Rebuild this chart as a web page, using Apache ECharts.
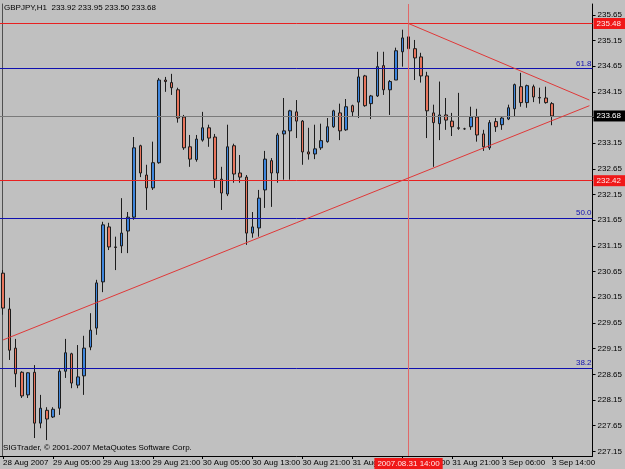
<!DOCTYPE html>
<html>
<head>
<meta charset="utf-8">
<script src="https://cdn.jsdelivr.net/npm/echarts@6/dist/echarts.min.js"></script>
<style>
  html, body { margin: 0; padding: 0; background: #c0c0c0; }
  #chart { width: 625px; height: 469px; }
</style>
</head>
<body>
<div id="chart"></div>
<script>
// GBPJPY H1 bars, 28 Aug 21:00 .. 3 Sep 14:00
const open = [230.62, 229.92, 229.16, 228.69, 228.25, 228.69, 227.70, 227.95, 227.82, 227.99,
  228.71, 229.05, 228.44, 228.62, 229.18, 229.55, 230.45, 231.52, 231.13, 231.15,
  231.44, 231.71, 233.10, 232.53, 232.28, 232.77, 234.38, 234.33, 234.19, 233.66,
  233.08, 232.83, 233.21, 233.45, 233.27, 232.45, 232.16, 233.10, 232.57, 232.49,
  231.40, 231.50, 232.24, 232.81, 232.57, 233.33, 233.39, 233.76, 233.58, 232.98,
  232.94, 233.06, 233.18, 233.47, 233.74, 233.41, 233.88, 233.95, 234.46, 233.92,
  234.07, 234.66, 234.19, 234.38, 234.93, 235.22, 234.99, 234.83, 234.46, 233.74,
  233.53, 233.70, 233.58, 233.45, 233.43, 233.47, 233.66, 233.33, 233.06, 233.57,
  233.51, 233.62, 233.82, 234.25, 233.94, 234.25, 234.04, 234.03, 233.92];
const close = [229.94, 229.12, 228.66, 228.23, 228.68, 227.70, 227.99, 227.78, 227.97, 228.71,
  229.07, 228.48, 228.60, 229.16, 229.51, 230.43, 231.56, 231.13, 231.12, 231.40,
  231.71, 233.06, 232.57, 232.28, 232.77, 234.38, 234.35, 234.23, 233.64, 233.06,
  232.84, 233.23, 233.45, 233.25, 232.45, 232.18, 233.08, 232.55, 232.49, 231.40,
  231.52, 232.08, 232.84, 232.57, 233.31, 233.39, 233.78, 233.58, 232.98, 232.94,
  233.04, 233.20, 233.47, 233.78, 233.39, 233.86, 233.76, 234.44, 233.88, 234.07,
  234.64, 234.19, 234.35, 234.95, 235.20, 234.99, 234.81, 234.46, 233.78, 233.55,
  233.70, 233.60, 233.47, 233.44, 233.43, 233.66, 233.31, 233.08, 233.55, 233.47,
  233.64, 233.84, 234.29, 233.94, 234.27, 234.05, 234.03, 233.94, 233.68];
const low = [229.81, 228.93, 228.40, 228.19, 228.19, 227.41, 227.60, 227.37, 227.80, 227.86,
  228.58, 228.38, 228.38, 228.25, 229.12, 229.42, 230.25, 231.07, 230.68, 231.01,
  231.01, 231.66, 232.49, 231.85, 232.24, 232.75, 234.15, 234.09, 233.55, 233.02,
  232.69, 232.79, 233.18, 233.08, 232.28, 231.85, 232.12, 232.38, 232.38, 231.17,
  231.31, 231.33, 231.89, 231.91, 232.38, 232.44, 232.44, 233.25, 232.73, 232.83,
  232.84, 233.02, 233.16, 233.45, 233.21, 233.39, 233.66, 233.64, 233.86, 233.62,
  234.05, 234.09, 233.70, 234.38, 234.64, 234.60, 234.38, 234.33, 233.25, 232.69,
  233.21, 233.41, 233.29, 233.41, 233.41, 233.41, 233.18, 233.00, 233.02, 233.37,
  233.41, 233.60, 233.66, 233.86, 233.84, 233.95, 233.92, 233.92, 233.50];
const high = [230.68, 230.14, 229.34, 228.71, 228.69, 228.83, 228.25, 228.01, 228.01, 228.75,
  229.34, 229.07, 229.22, 229.40, 229.84, 230.49, 231.62, 231.60, 231.33, 232.08,
  231.81, 233.27, 233.12, 232.73, 233.18, 234.42, 234.44, 234.50, 234.23, 233.70,
  233.31, 233.31, 233.76, 233.51, 233.33, 232.69, 233.51, 233.14, 232.92, 232.53,
  231.81, 232.24, 233.00, 232.86, 233.35, 234.03, 233.80, 233.99, 233.60, 233.45,
  233.51, 233.53, 233.64, 233.80, 233.92, 234.01, 233.90, 234.60, 234.48, 234.09,
  234.93, 234.93, 234.38, 235.01, 235.36, 235.32, 235.16, 234.91, 234.54, 233.90,
  234.35, 234.03, 233.74, 234.13, 233.45, 233.86, 233.82, 233.41, 233.60, 233.64,
  233.66, 233.90, 234.31, 234.52, 234.29, 234.29, 234.23, 234.25, 233.95];

// one label every 8 bars
const tickLabels = ['28 Aug 2007', '29 Aug 05:00', '29 Aug 13:00', '29 Aug 21:00', '30 Aug 05:00',
  '30 Aug 13:00', '30 Aug 21:00', '31 Aug 05:00', '31 Aug 13:00', '31 Aug 21:00',
  '3 Sep 06:00', '3 Sep 14:00'];
const priceTicks = [227.15, 227.65, 228.15, 228.65, 229.15, 229.65, 230.15, 230.65, 231.15,
  231.65, 232.15, 232.65, 233.15, 233.65, 234.15, 234.65, 235.15, 235.65];

const redLevels = [235.48, 232.42];
const fibLevels = [234.60, 231.69, 228.77];
const fibNames = ['61.8', '50.0', '38.2'];
const bidPrice = 233.68;
const cursorIndex = 65;
const cursorTime = '2007.08.31 14:00';
// triangle: [startIndex, startPrice, endIndex, endPrice]
const supportLine = [0, 229.32, 94, 233.88];
const resistLine = [65, 235.48, 94, 233.99];

const emptySlots = 6;
const categories = [];
for (let i = 0; i < open.length + emptySlots; i++) categories.push(String(i));

const candles = open.map((o, i) => [o, close[i], low[i], high[i]]);

const font = "'Liberation Sans', sans-serif";
const FS = 8;
const RED = '#e82020';
const BLUE = '#1010b0';

const markLines = [];
redLevels.forEach(v => markLines.push({
  yAxis: v,
  lineStyle: { color: RED, width: 1, type: 'solid' },
  label: { show: true, position: 'end', distance: 1, formatter: v.toFixed(2),
    backgroundColor: '#f01818', color: '#ffe8e8', padding: [2, 4, 1, 3], fontSize: FS, fontFamily: font }
}));
fibLevels.forEach((v, i) => markLines.push({
  yAxis: v,
  lineStyle: { color: BLUE, width: 1, type: 'solid' },
  label: { show: true, position: 'insideEndTop', distance: 1, formatter: fibNames[i],
    color: BLUE, fontSize: FS, fontFamily: font }
}));
markLines.push({
  yAxis: bidPrice,
  lineStyle: { color: '#7a7a7a', width: 1, type: 'solid' },
  label: { show: true, position: 'end', distance: 1, formatter: bidPrice.toFixed(2),
    backgroundColor: '#000', color: '#fff', padding: [2, 4, 1, 3], fontSize: FS, fontFamily: font }
});
markLines.push({
  xAxis: cursorIndex,
  lineStyle: { color: '#e06868', width: 1, type: 'solid' },
  label: { show: true, position: 'start', distance: 2, formatter: cursorTime,
    backgroundColor: '#f01818', color: '#ffe8e8', padding: [2, 3, 1, 3], fontSize: FS, fontFamily: font }
});
[supportLine, resistLine].forEach(l => markLines.push([
  { coord: [l[0], l[1]], lineStyle: { color: '#e03838', width: 1, type: 'solid' }, label: { show: false } },
  { coord: [l[2], l[3]] }
]));

const chart = echarts.init(document.getElementById('chart'));
chart.setOption({
  animation: false,
  backgroundColor: '#c0c0c0',
  textStyle: { fontFamily: font },
  title: [
    { text: 'GBPJPY,H1  233.92 233.95 233.50 233.68', left: 4, top: 4, padding: 0,
      textStyle: { fontSize: FS, fontWeight: 'normal', color: '#000', fontFamily: font } },
    { text: 'SIGTrader, © 2001-2007 MetaQuotes Software Corp.', left: 3, top: 444, padding: 0,
      textStyle: { fontSize: FS, fontWeight: 'normal', color: '#000', fontFamily: font } }
  ],
  grid: { left: 0, right: 32, top: 4, bottom: 13 },
  xAxis: {
    type: 'category',
    data: categories,
    boundaryGap: true,
    axisLine: { show: true, lineStyle: { color: '#000' } },
    axisTick: { show: true, alignWithLabel: true, interval: 7, length: 3, lineStyle: { color: '#000' } },
    axisLabel: {
      interval: 7, align: 'left', margin: 3, fontSize: FS, color: '#000', fontFamily: font,
      showMinLabel: true, hideOverlap: false,
      formatter: (v, i) => tickLabels[i / 8] || ''
    },
    splitLine: { show: false }
  },
  yAxis: [{
    type: 'value',
    position: 'right',
    min: 227.06,
    max: 235.86,
    axisLine: { show: true, lineStyle: { color: '#000' } },
    axisTick: { show: true, length: 3, customValues: priceTicks, lineStyle: { color: '#000' } },
    axisLabel: { customValues: priceTicks, margin: 5, fontSize: FS, color: '#000', fontFamily: font,
      formatter: v => v.toFixed(2) },
    splitLine: { show: false }
  }, {
    type: 'value',
    position: 'left',
    offset: -2,
    axisLine: { show: true, lineStyle: { color: '#505050' } },
    axisTick: { show: false },
    axisLabel: { show: false },
    splitLine: { show: false }
  }],
  series: [{
    type: 'candlestick',
    data: candles,
    barWidth: 3,
    itemStyle: {
      color: '#3f86dd',
      color0: '#e8755d',
      borderColor: '#1c1c1c',
      borderColor0: '#1c1c1c',
      borderColorDoji: '#1c1c1c',
      borderWidth: 1
    },
    markLine: {
      silent: true,
      symbol: 'none',
      animation: false,
      data: markLines
    }
  }]
});
</script>
</body>
</html>
